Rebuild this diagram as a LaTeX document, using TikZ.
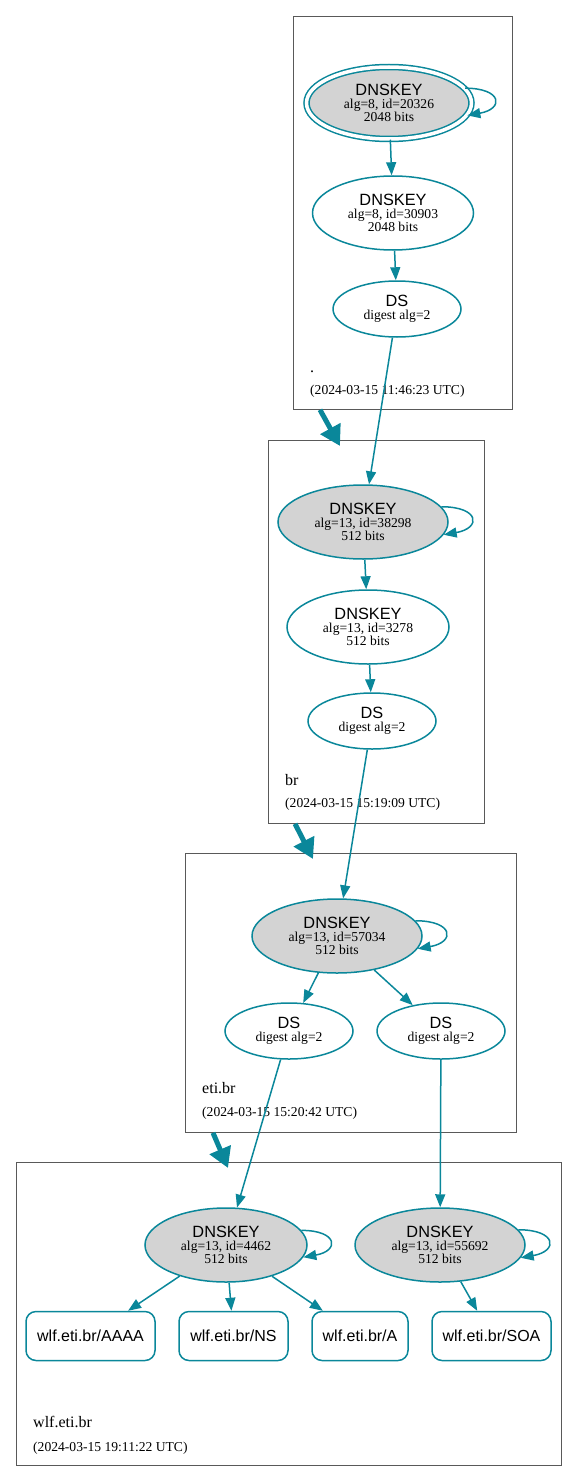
\documentclass[tikz,border=0pt]{standalone}
\usepackage{fontspec}
\setmainfont{Liberation Serif}
\setsansfont{Liberation Sans}
\usetikzlibrary{shapes.geometric,arrows.meta}
\definecolor{secure}{HTML}{0A879A}
\definecolor{keyfill}{HTML}{D3D3D3}
\tikzset{
  keynode/.style={ellipse, draw=secure, line width=1.5pt, inner sep=0pt, align=center,
    font=\fontsize{13.6}{13}\selectfont},
  sepkey/.style={keynode, fill=keyfill},
  dsnode/.style={keynode, minimum width=128pt, minimum height=56pt},
  rrset/.style={rectangle, rounded corners=10pt, draw=secure, line width=1.5pt,
    minimum height=49pt, inner sep=0pt, font=\sffamily\fontsize{16}{16}\selectfont},
  zone/.style={rectangle, draw=black!65, line width=0.8pt, anchor=north west, inner sep=0pt},
  zonename/.style={anchor=base west, inner sep=0pt, font=\fontsize{16}{16}\selectfont},
  zonedate/.style={anchor=base west, inner sep=0pt, font=\fontsize{13.6}{13}\selectfont},
  edge/.style={draw=secure, line width=1.5pt, -{Triangle[length=13pt,width=10pt]}},
  deleg/.style={draw=secure, line width=5pt, -{Triangle[length=20pt,width=22pt]}},
}
\newcommand{\keytext}[3]{{\sffamily\fontsize{16.3}{13}\selectfont DNSKEY}\\alg=#1, id=#2\\#3 bits}
\newcommand{\dstext}{{\sffamily\fontsize{16.3}{13}\selectfont DS}\\digest alg=2}
\begin{document}
\begin{tikzpicture}[x=1pt,y=1pt]
    \useasboundingbox (0,0) rectangle (577,-1482);
    % zones
    \node[zone, minimum width=219pt, minimum height=393pt] (zroot) at (293,-16) {};
    \node[zone, minimum width=216pt, minimum height=383pt] (zbr) at (268,-440) {};
    \node[zone, minimum width=331pt, minimum height=279pt] (zeti) at (185,-853) {};
    \node[zone, minimum width=545pt, minimum height=303pt] (zwlf) at (16,-1162) {};
    \node[zonename] (nroot) at (310,-372) {.};
    \node[zonedate] (droot) at (310,-394) {(2024-03-15 11:46:23 UTC)};
    \node[zonename] (nbr) at (285,-785) {br};
    \node[zonedate] (dbr) at (285,-807) {(2024-03-15 15:19:09 UTC)};
    \node[zonename] (neti) at (202,-1093) {eti.br};
    \node[zonedate] (deti) at (202,-1116) {(2024-03-15 15:20:42 UTC)};
    \node[zonename] (nwlf) at (33,-1427) {wlf.eti.br};
    \node[zonedate] (dwlf) at (33,-1451) {(2024-03-15 19:11:22 UTC)};
    % keys and ds
    \node[sepkey, minimum width=165pt, minimum height=72pt, double=white, double distance=3.5pt] (k20326) at (389,-103) {\keytext{8}{20326}{2048}};
    \node[keynode, minimum width=161pt, minimum height=74pt] (k30903) at (393,-213) {\keytext{8}{30903}{2048}};
    \node[dsnode] (dsroot) at (397,-309) {\dstext};
    \node[sepkey, minimum width=170pt, minimum height=74pt] (k38298) at (363,-522) {\keytext{13}{38298}{512}};
    \node[keynode, minimum width=162pt, minimum height=74pt] (k3278) at (368,-627) {\keytext{13}{3278}{512}};
    \node[dsnode] (dsbr) at (372,-721) {\dstext};
    \node[sepkey, minimum width=170pt, minimum height=74pt] (k57034) at (337,-936) {\keytext{13}{57034}{512}};
    \node[dsnode] (dseti) at (289,-1031) {\dstext};
    \node[dsnode] (dseti2) at (441,-1031) {\dstext};
    \node[sepkey, minimum width=162pt, minimum height=74pt] (k4462) at (226,-1245) {\keytext{13}{4462}{512}};
    \node[sepkey, minimum width=170pt, minimum height=74pt] (k55692) at (440,-1245) {\keytext{13}{55692}{512}};
    % rrsets
    \node[rrset, minimum width=129pt] (aaaa) at (90.5,-1336) {wlf.eti.br/AAAA};
    \node[rrset, minimum width=109pt] (ns) at (233.5,-1336) {wlf.eti.br/NS};
    \node[rrset, minimum width=96pt] (a) at (360,-1336) {wlf.eti.br/A};
    \node[rrset, minimum width=119pt] (soa) at (491.5,-1336) {wlf.eti.br/SOA};
    % self signatures
    \foreach \k in {k20326,k38298,k57034,k4462,k55692}
        \draw[edge] (\k.11) to[out=0,in=10,looseness=3.5] (\k.-9);
    % edges
    \draw[edge] (k20326) -- (k30903);
    \draw[edge] (k30903) -- (dsroot);
    \draw[edge] (dsroot) -- (k38298);
    \draw[edge] (k38298) -- (k3278);
    \draw[edge] (k3278) -- (dsbr);
    \draw[edge] (dsbr) -- (k57034);
    \draw[edge] (k57034) -- (dseti);
    \draw[edge] (k57034) -- (dseti2);
    \draw[edge] (dseti) -- (k4462);
    \draw[edge] (dseti2) -- (k55692);
    \draw[edge] (k4462) -- (aaaa);
    \draw[edge] (k4462) -- (ns);
    \draw[edge] (k4462) -- (a);
    \draw[edge] (k55692) -- (soa);
    % delegations
    \draw[deleg] ([xshift=27pt]zroot.south west) -- ([xshift=72pt,yshift=-6pt]zbr.north west);
    \draw[deleg] ([xshift=27pt]zbr.south west) -- ([xshift=128pt,yshift=-6pt]zeti.north west);
    \draw[deleg] ([xshift=28pt]zeti.south west) -- ([xshift=212pt,yshift=-6pt]zwlf.north west);
\end{tikzpicture}
\end{document}
